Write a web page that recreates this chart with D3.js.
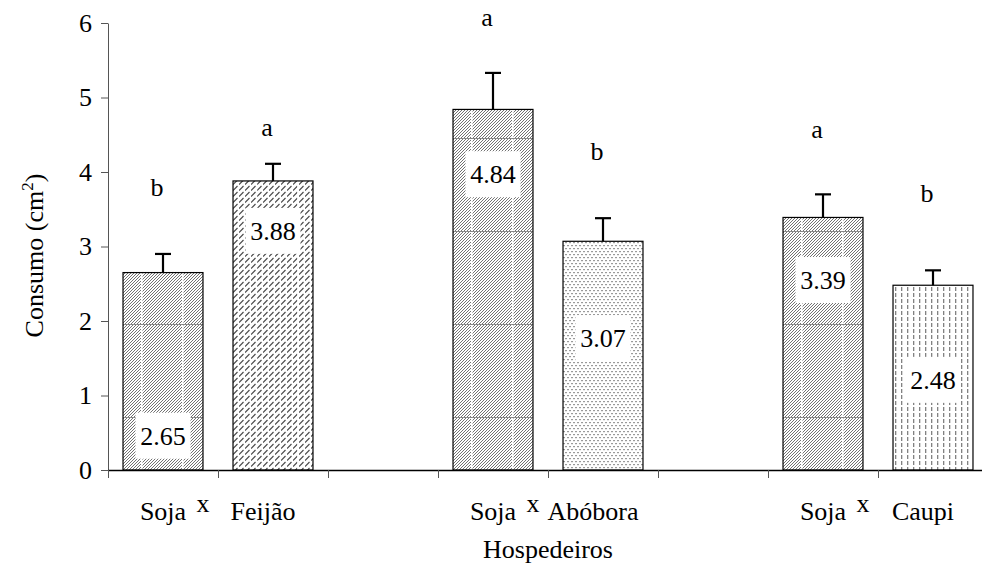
<!DOCTYPE html>
<html>
<head>
<meta charset="utf-8">
<script src="https://cdn.jsdelivr.net/npm/d3@7"></script>
</head>
<body style="margin:0">
<svg id="chart" width="982" height="567" font-family="Liberation Serif" font-size="26"></svg>
<script>
// data
var hosts = ["Feijão", "Abóbora", "Caupi"];
var sojaValues = [2.65, 4.84, 3.39];
var hostValues = [3.88, 3.07, 2.48];
var sojaErr = [0.25, 0.49, 0.31];
var hostErr = [0.23, 0.31, 0.20];
var sojaLetters = ["b", "a", "a"];
var hostLetters = ["a", "b", "b"];
// height (in y units) where the letters / value boxes sit
var sojaLetterLevel = [3.68, 5.96, 4.46];
var hostLetterLevel = [4.48, 4.16, 3.60];
var sojaLabelLevel = [0.46, 3.97, 2.55];
var hostLabelLevel = [3.21, 1.77, 1.21];
var yTicks = [0, 1, 2, 3, 4, 5, 6];

var width = 982, height = 567;
var margin = {top: 23, right: -6, bottom: 97, left: 108};
var innerW = width - margin.left - margin.right;
var innerH = height - margin.top - margin.bottom;

var svg = d3.select("#chart");

// ---- fill patterns
var defs = svg.append("defs");

var p = defs.append("pattern").attr("id", "sojaFill")
    .attr("patternUnits", "userSpaceOnUse").attr("width", 3).attr("height", 3);
p.append("rect").attr("width", 3).attr("height", 3).attr("fill", "#fff");
p.append("path").attr("d", "M-1,1 L1,-1 M0,3 L3,0 M2,4 L4,2")
    .attr("stroke", "#707070").attr("stroke-width", 1);

// white verticals / grey horizontals seen inside the soja bars
var g1 = defs.append("pattern").attr("id", "sojaGrid")
    .attr("patternUnits", "userSpaceOnUse").attr("width", 41).attr("height", 93);
g1.append("rect").attr("x", 18).attr("y", 0).attr("width", 1.5).attr("height", 93).attr("fill", "#fff");
g1.append("rect").attr("x", 0).attr("y", 22).attr("width", 41).attr("height", 1).attr("fill", "#888");

var p2 = defs.append("pattern").attr("id", "feijaoFill")
    .attr("patternUnits", "userSpaceOnUse").attr("width", 6).attr("height", 6);
p2.append("rect").attr("width", 6).attr("height", 6).attr("fill", "#fff");
p2.append("path").attr("d", "M0,5.5 L4.5,1").attr("stroke", "#444").attr("stroke-width", 1.1);

var g2 = defs.append("pattern").attr("id", "feijaoGrid")
    .attr("patternUnits", "userSpaceOnUse").attr("width", 41).attr("height", 500);
g2.append("rect").attr("x", 23).attr("y", 0).attr("width", 1.2).attr("height", 500).attr("fill", "#fff").attr("opacity", 0.8);

var p3 = defs.append("pattern").attr("id", "aboboraFill")
    .attr("patternUnits", "userSpaceOnUse").attr("width", 4).attr("height", 6);
p3.append("rect").attr("width", 4).attr("height", 6).attr("fill", "#fff");
p3.append("rect").attr("x", 0).attr("y", 0).attr("width", 2).attr("height", 1.2).attr("fill", "#999");
p3.append("rect").attr("x", 2).attr("y", 3).attr("width", 2).attr("height", 1.2).attr("fill", "#999");

var p4 = defs.append("pattern").attr("id", "caupiFill")
    .attr("patternUnits", "userSpaceOnUse").attr("width", 6).attr("height", 6);
p4.append("rect").attr("width", 6).attr("height", 6).attr("fill", "#fff");
p4.append("rect").attr("x", 2).attr("y", 0).attr("width", 1.3).attr("height", 4).attr("fill", "#808080");

var hostFill = ["feijaoFill", "aboboraFill", "caupiFill"];

var chart = svg.append("g")
    .attr("transform", "translate(" + margin.left + "," + margin.top + ")");

// 8 slots: soja, host, gap for each pair
var x = d3.scaleLinear().domain([0, 8]).range([0, innerW]);
var y = d3.scaleLinear().domain([0, 6]).range([innerH, 0]);
var slotW = x(1) - x(0);
var barW = slotW * 0.727;

// build bar list
var bars = [];
hosts.forEach(function(h, i) {
    bars.push({slot: i * 3, value: sojaValues[i], err: sojaErr[i], letter: sojaLetters[i],
        letterAt: sojaLetterLevel[i], labelAt: sojaLabelLevel[i], fill: "sojaFill", grid: "sojaGrid"});
    bars.push({slot: i * 3 + 1, value: hostValues[i], err: hostErr[i], letter: hostLetters[i],
        letterAt: hostLetterLevel[i], labelAt: hostLabelLevel[i], fill: hostFill[i], grid: i == 0 ? "feijaoGrid" : null});
});

var barG = chart.selectAll(".bar").data(bars).enter().append("g")
    .attr("class", "bar")
    .attr("transform", function(d) { return "translate(" + (x(d.slot) + (slotW - barW) / 2) + ",0)"; });

barG.append("rect")
    .attr("width", barW)
    .attr("y", function(d) { return y(d.value); })
    .attr("height", function(d) { return innerH - y(d.value); })
    .attr("fill", function(d) { return "url(#" + d.fill + ")"; });

barG.filter(function(d) { return d.grid; }).append("rect")
    .attr("width", barW)
    .attr("y", function(d) { return y(d.value); })
    .attr("height", function(d) { return innerH - y(d.value); })
    .attr("fill", function(d) { return "url(#" + d.grid + ")"; });

barG.append("rect")
    .attr("width", barW)
    .attr("y", function(d) { return y(d.value); })
    .attr("height", function(d) { return innerH - y(d.value); })
    .attr("fill", "none")
    .attr("stroke", "#000")
    .attr("stroke-width", 1.2);

// error bars
barG.append("line")
    .attr("x1", barW / 2).attr("x2", barW / 2)
    .attr("y1", function(d) { return y(d.value); })
    .attr("y2", function(d) { return y(d.value + d.err); })
    .attr("stroke", "#000").attr("stroke-width", 2.2);
barG.append("line")
    .attr("x1", barW / 2 - 8).attr("x2", barW / 2 + 8)
    .attr("y1", function(d) { return y(d.value + d.err); })
    .attr("y2", function(d) { return y(d.value + d.err); })
    .attr("stroke", "#000").attr("stroke-width", 2.2);

// value boxes
barG.append("rect")
    .attr("x", barW / 2 - 27.5)
    .attr("y", function(d) { return y(d.labelAt) - 23; })
    .attr("width", 55).attr("height", 46)
    .attr("fill", "#fff");
barG.append("text")
    .attr("x", barW / 2)
    .attr("y", function(d) { return y(d.labelAt); })
    .attr("dy", "0.35em")
    .attr("text-anchor", "middle")
    .text(function(d) { return d.value.toFixed(2); });

// significance letters
barG.append("text")
    .attr("x", barW / 2 - 6)
    .attr("y", function(d) { return y(d.letterAt); })
    .attr("text-anchor", "middle")
    .text(function(d) { return d.letter; });

// axes
var yAxis = chart.append("g")
    .call(d3.axisLeft(y).tickValues(yTicks).tickFormat(d3.format("d"))
        .tickSize(7).tickSizeOuter(0).tickPadding(9));
yAxis.attr("font-family", null).attr("font-size", null);
yAxis.select(".domain").attr("stroke", "#555");
yAxis.selectAll(".tick line").attr("stroke", "#555");

var xAxis = chart.append("g")
    .attr("transform", "translate(0," + innerH + ")")
    .call(d3.axisBottom(x).ticks(8).tickSize(8).tickSizeOuter(0).tickFormat(""));
xAxis.attr("font-family", null).attr("font-size", null);
xAxis.select(".domain").attr("stroke", "#000").attr("stroke-width", 1.3);
xAxis.selectAll(".tick line").attr("stroke", "#555");

// group labels under the axis
var labelY = innerH + 50;
hosts.forEach(function(h, i) {
    var sojaC = x(i * 3) + slotW / 2;
    var hostC = x(i * 3 + 1) + slotW / 2;
    chart.append("text").attr("x", sojaC).attr("y", labelY)
        .attr("text-anchor", "middle").text("Soja");
    chart.append("text").attr("x", x(i * 3 + 1) - 15).attr("y", labelY - 8)
        .attr("text-anchor", "middle").text("x");
    chart.append("text").attr("x", hostC - 10).attr("y", labelY)
        .attr("text-anchor", "middle").text(h);
});

chart.append("text")
    .attr("x", x(4))
    .attr("y", innerH + 88)
    .attr("text-anchor", "middle")
    .text("Hospedeiros");

var yt = chart.append("text")
    .attr("transform", "translate(" + (-65) + "," + (innerH / 2 + 9) + ") rotate(-90)")
    .attr("text-anchor", "middle");
yt.append("tspan").text("Consumo (cm");
yt.append("tspan").attr("dy", -10).attr("font-size", 17).text("2");
yt.append("tspan").attr("dy", 10).text(")");

svg.selectAll("text").attr("fill", "#000");
</script>
</body>
</html>
